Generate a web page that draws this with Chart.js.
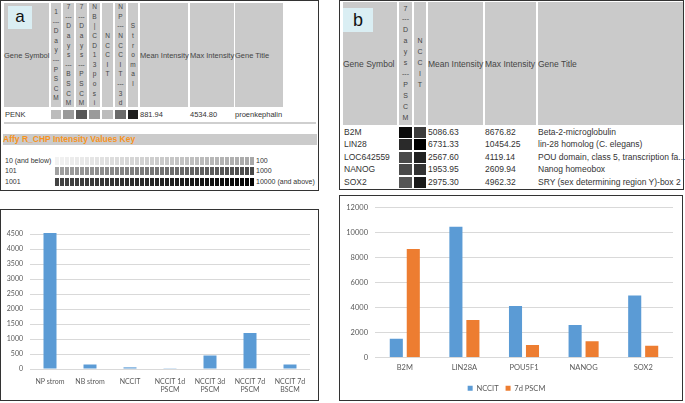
<!DOCTYPE html>
<html>
<head>
<meta charset="utf-8">
<script src="https://cdn.jsdelivr.net/npm/chart.js@4.4.1/dist/chart.umd.min.js"></script>
<style>
  body { margin:0; width:685px; height:403px; position:relative; overflow:hidden; background:#fff;
         font-family:"Liberation Sans", Arial, sans-serif; }
  .frame { position:absolute; box-sizing:border-box; border:1px solid #333; }
  .abs { position:absolute; }
  .cell { position:absolute; background:#cacaca; color:#454545; display:flex; align-items:center; white-space:nowrap; }
  .vert { flex-direction:column; justify-content:center; text-align:center; }
  .txt { position:absolute; white-space:nowrap; color:#333; }
  canvas { position:absolute; }
</style>
</head>
<body>
<div class="frame" style="left:0;top:0;width:319px;height:191px"></div>
<div class="frame" style="left:0;top:209px;width:319px;height:192px"></div>
<div class="frame" style="left:339px;top:0;width:345px;height:190px"></div>
<div class="frame" style="left:339px;top:195px;width:344px;height:206px"></div>
<div id="tables"></div>
<canvas id="chartA" width="316" height="190" style="left:1px;top:210px"></canvas>
<canvas id="chartB" width="342" height="206" style="left:340px;top:196px"></canvas>

<script>
// ---- chart a : PENK mean intensity per sample
const aLabels = ["NP strom", "NB strom", "NCCIT", ["NCCIT 1d", "PSCM"], ["NCCIT 3d", "PSCM"], ["NCCIT 7d", "PSCM"], ["NCCIT 7d", "BSCM"]];
const aValues = [4535, 150, 55, 25, 450, 1200, 150];
const aTicks = [0, 500, 1000, 1500, 2000, 2500, 3000, 3500, 4000, 4500];

// ---- chart b : NCCIT vs 7d PSCM
const bLabels = ["B2M", "LIN28A", "POU5F1", "NANOG", "SOX2"];
const bNccit = [1500, 10454, 4119, 2610, 4962];
const bPscm = [8677, 3000, 1000, 1300, 950];
const bTicks = [0, 2000, 4000, 6000, 8000, 10000, 12000];

// ==============================
// tables (plain html)
// ==============================
const root = document.getElementById("tables");
function put(cls, x, y, w, h, html, css) {
  const d = document.createElement("div");
  d.className = cls;
  d.style.cssText = `left:${x}px;top:${y}px;` + (w != null ? `width:${w}px;` : "") + (h != null ? `height:${h}px;` : "") + (css || "");
  d.innerHTML = html || "";
  root.appendChild(d);
  return d;
}

// panel a header
put("cell", 4, 3, 45, 104, "Gene Symbol", "font-size:7.5px");
const aVert = [
  [51, 10, ["1","---","D","a","y","---","P","S","C","M"], "#bcbcbc"],
  [63, 11, ["7","---","D","a","y","s","---","B","S","C","M"], "#9a9a9a"],
  [76, 11, ["7","---","D","a","y","s","---","P","S","C","M"], "#575757"],
  [89, 11, ["N","B","|","C","D","1","3","p","o","s","i"], "#9a9a9a"],
  [102, 11, ["N","C","C","I","T"], "#bcbcbc"],
  [115, 11, ["N","P","---","N","C","C","I","T","---","3","d"], "#6a6a6a"],
  [128, 10, ["S","t","r","o","m","a","l"], "#1e1e1e"]
];
aVert.forEach(([x, w, lines, c]) => {
  put("cell vert", x, 3, w, 104, lines.join("<br>"), "font-size:6.5px;line-height:9.6px");
  put("abs", x, 110, w, 9, "", "background:" + c);
});
put("cell", 140, 3, 48, 104, "Mean Intensity", "font-size:7.5px");
put("cell", 190, 3, 44, 104, "Max Intensity", "font-size:7.5px");
put("cell", 235, 3, 48, 104, "Gene Title", "font-size:7.5px");
put("abs", 8, 6, 24, 23, "a", "background:#daeef3;font-size:17px;line-height:22px;text-align:center;color:#111");
put("txt", 5, 110, null, null, "PENK", "font-size:7.5px");
put("txt", 140, 110, null, null, "881.94", "font-size:7.5px");
put("txt", 190, 110, null, null, "4534.80", "font-size:7.5px");
put("txt", 235, 110, null, null, "proenkephalin", "font-size:7.5px");
put("abs", 4, 122, 312, 2, "", "background:#cfcfcf");

// intensity key
put("abs", 3, 134, 314, 11, "Affy R_CHP Intensity Values Key",
  "background:#cbcbcb;color:#f7931e;font-weight:bold;font-size:8.5px;line-height:10px;white-space:nowrap");
const keyRows = [
  ["10 (and below)", "100", 157, [242, 168]],
  ["101", "1000", 167, [160, 72]],
  ["1001", "10000 (and above)", 178, [68, 5]]
];
keyRows.forEach(([l, r, y, [g0, g1]]) => {
  put("txt", 5, y - 1, null, null, l, "font-size:7px;line-height:10px");
  put("txt", 256, y - 1, null, null, r, "font-size:7px;line-height:10px");
  for (let i = 0; i < 40; i++) {
    const g = Math.round(g0 + (g1 - g0) * i / 39);
    put("abs", 55 + i * 5, y, 4, 8, "", `background:rgb(${g},${g},${g})`);
  }
});

// panel b header
put("cell", 343, 2, 54, 123, "Gene Symbol", "font-size:8.5px");
put("cell vert", 399, 2, 13, 123, ["7","---","D","a","y","s","---","P","S","C","M"].join("<br>"), "font-size:7px;line-height:10.9px");
put("cell vert", 414, 2, 12, 123, ["N","C","C","I","T"].join("<br>"), "font-size:7px;line-height:10.9px");
put("cell", 428, 2, 55, 123, "Mean Intensity", "font-size:8.5px");
put("cell", 485, 2, 51, 123, "Max Intensity", "font-size:8.5px");
put("cell", 538, 2, 145, 123, "Gene Title", "font-size:8.5px");
put("abs", 343, 8, 30, 24, "b", "background:#daeef3;font-size:18px;line-height:24px;text-align:center;color:#111");
const bRows = [
  ["B2M", "#0a0a0a", "#3c3c3c", "5086.63", "8676.82", "Beta-2-microglobulin"],
  ["LIN28", "#2a2a2a", "#000000", "6731.33", "10454.25", "lin-28 homolog (C. elegans)"],
  ["LOC642559", "#4a4a4a", "#222222", "2567.60", "4119.14", "POU domain, class 5, transcription fa..."],
  ["NANOG", "#4a4a4a", "#333333", "1953.95", "2609.94", "Nanog homeobox"],
  ["SOX2", "#555555", "#1a1a1a", "2975.30", "4962.32", "SRY (sex determining region Y)-box 2"]
];
bRows.forEach(([g, c1, c2, mean, max, title], i) => {
  const y = 126.5 + i * 12.5;
  const css = "font-size:8.5px;line-height:11px";
  put("txt", 344, y, null, null, g, css);
  put("abs", 399, y, 13, 11, "", "background:" + c1);
  put("abs", 414, y, 12, 11, "", "background:" + c2);
  put("txt", 428, y, null, null, mean, css);
  put("txt", 485, y, null, null, max, css);
  put("txt", 538, y, null, null, title, css);
});

// ==============================
// charts
// ==============================
const tickFont = { family: "Lato", size: 7 };
const grey = "#595959";
const plain = v => String(v); // no thousands separator

new Chart(document.getElementById("chartA"), {
  type: "bar",
  data: {
    labels: aLabels,
    datasets: [{ data: aValues, backgroundColor: "#5b9bd5", categoryPercentage: 0.5, barPercentage: 0.65, clip: false }]
  },
  options: {
    responsive: false,
    animation: false,
    layout: { padding: { top: 24, right: 7, left: 0, bottom: 0 } },
    plugins: { legend: { display: false }, tooltip: { enabled: false } },
    scales: {
      x: {
        grid: { display: false, drawTicks: false },
        border: { display: false },
        ticks: { color: grey, font: tickFont, padding: 8.5, maxRotation: 0, autoSkip: false },
        afterFit: s => { s.height = 31; }
      },
      y: {
        min: 0, max: 4500,
        afterBuildTicks: ax => { ax.ticks = aTicks.map(v => ({ value: v })); },
        grid: { color: "#d9d9d9", drawTicks: false },
        border: { display: false },
        ticks: { color: grey, font: tickFont, padding: 7, callback: plain },
        afterFit: s => { s.width = 29; }
      }
    }
  }
});

new Chart(document.getElementById("chartB"), {
  type: "bar",
  data: {
    labels: bLabels,
    datasets: [
      { label: "NCCIT", data: bNccit, backgroundColor: "#5b9bd5", categoryPercentage: 0.57, barPercentage: 0.77 },
      { label: "7d PSCM", data: bPscm, backgroundColor: "#ed7d31", categoryPercentage: 0.57, barPercentage: 0.77 }
    ]
  },
  options: {
    responsive: false,
    animation: false,
    layout: { padding: { top: 9.5, right: 9, left: 0, bottom: 0 } },
    plugins: {
      tooltip: { enabled: false },
      legend: {
        position: "bottom",
        labels: { boxWidth: 5, boxHeight: 5, padding: 7, color: grey, font: { family: "Lato", size: 7.5 } }
      }
    },
    scales: {
      x: {
        grid: { display: false, drawTicks: false },
        border: { display: false },
        ticks: { color: grey, font: { family: "Lato", size: 7.5 }, padding: 5.5, maxRotation: 0 },
        afterFit: s => { s.height = 20; }
      },
      y: {
        min: 0, max: 12000,
        afterBuildTicks: ax => { ax.ticks = bTicks.map(v => ({ value: v })); },
        grid: { color: "#d9d9d9", drawTicks: false },
        border: { display: false },
        ticks: { color: grey, font: { family: "Lato", size: 7.5 }, padding: 7, callback: plain },
        afterFit: s => { s.width = 35; }
      }
    }
  }
});
</script>
</body>
</html>
